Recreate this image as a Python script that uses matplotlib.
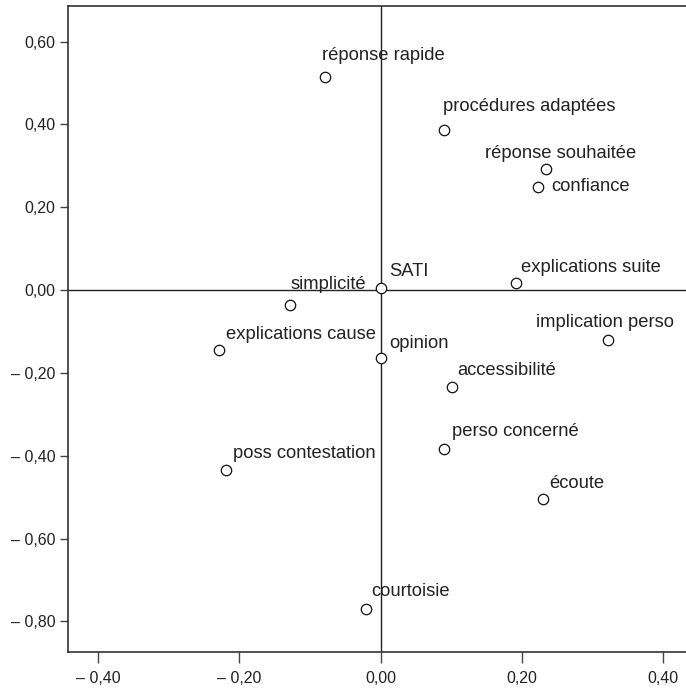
import matplotlib
matplotlib.use("Agg")
import matplotlib.pyplot as plt

plt.rcParams['font.family'] = ['Liberation Sans', 'DejaVu Sans']

# item coordinates on the two factor axes
labels = ["réponse rapide", "procédures adaptées", "réponse souhaitée", "confiance",
          "SATI", "explications suite", "simplicité", "explications cause",
          "opinion", "implication perso", "accessibilité", "perso concerné",
          "poss contestation", "écoute", "courtoisie"]
xs = [-0.079, 0.090, 0.234, 0.223, 0.000, 0.192, -0.128, -0.229,
      0.000, 0.322, 0.102, 0.090, -0.219, 0.230, -0.020]
ys = [0.515, 0.386, 0.292, 0.250, 0.004, 0.016, -0.036, -0.145,
      -0.163, -0.121, -0.235, -0.384, -0.435, -0.505, -0.771]

xticks = [-0.40, -0.20, 0.00, 0.20, 0.40]
yticks = [0.60, 0.40, 0.20, 0.00, -0.20, -0.40, -0.60, -0.80]

# label offsets in pixels (left edge, vertical centre) from each point
offsets = [(-3, 21), (-1, 24), (-61, 16), (13, 0), (9, 17), (5, 16), (0, 20),
           (7, 16), (9, 14), (-72, 18), (5, 17), (8, 18), (7, 17), (6, 16), (5, 18)]


def fmt(v):
    s = "%.2f" % abs(v)
    s = s.replace(".", ",")
    if v < -1e-9:
        s = "\u2013 " + s
    return s


fig = plt.figure(figsize=(6.86, 6.93), dpi=100)
ax = fig.add_axes([68/686, 1-652/693, 1-68/686, (652-6)/693])

ax.axhline(0, color="#222222", lw=1.0, zorder=1)
ax.axvline(0, color="#222222", lw=1.0, zorder=1)

ax.plot(xs, ys, linestyle="none", marker="o", markersize=7.5,
        markerfacecolor="white", markeredgecolor="#111111", markeredgewidth=0.9, zorder=3)

for lab, x, y, (dx, dy) in zip(labels, xs, ys, offsets):
    ax.annotate(lab, (x, y), xytext=(dx, dy), textcoords="offset pixels",
                ha="left", va="center", fontsize=13.2, color="#222222", zorder=4)

ax.set_xlim(-0.443, 0.433)
ax.set_ylim(-0.874, 0.686)

ax.set_xticks(xticks)
ax.set_xticklabels([fmt(v) for v in xticks])
ax.set_yticks(yticks)
ax.set_yticklabels([fmt(v) for v in yticks])

ax.tick_params(axis="x", length=8, width=1, color="#444444", pad=6, labelsize=11.5, labelcolor="#222222")
ax.tick_params(axis="y", length=6, width=1, color="#444444", pad=3, labelsize=11.5, labelcolor="#222222")

for side in ["left", "bottom", "top"]:
    ax.spines[side].set_linewidth(1.2)
    ax.spines[side].set_color("#333333")
ax.spines["right"].set_visible(False)

fig.savefig("out.png", dpi=100)
